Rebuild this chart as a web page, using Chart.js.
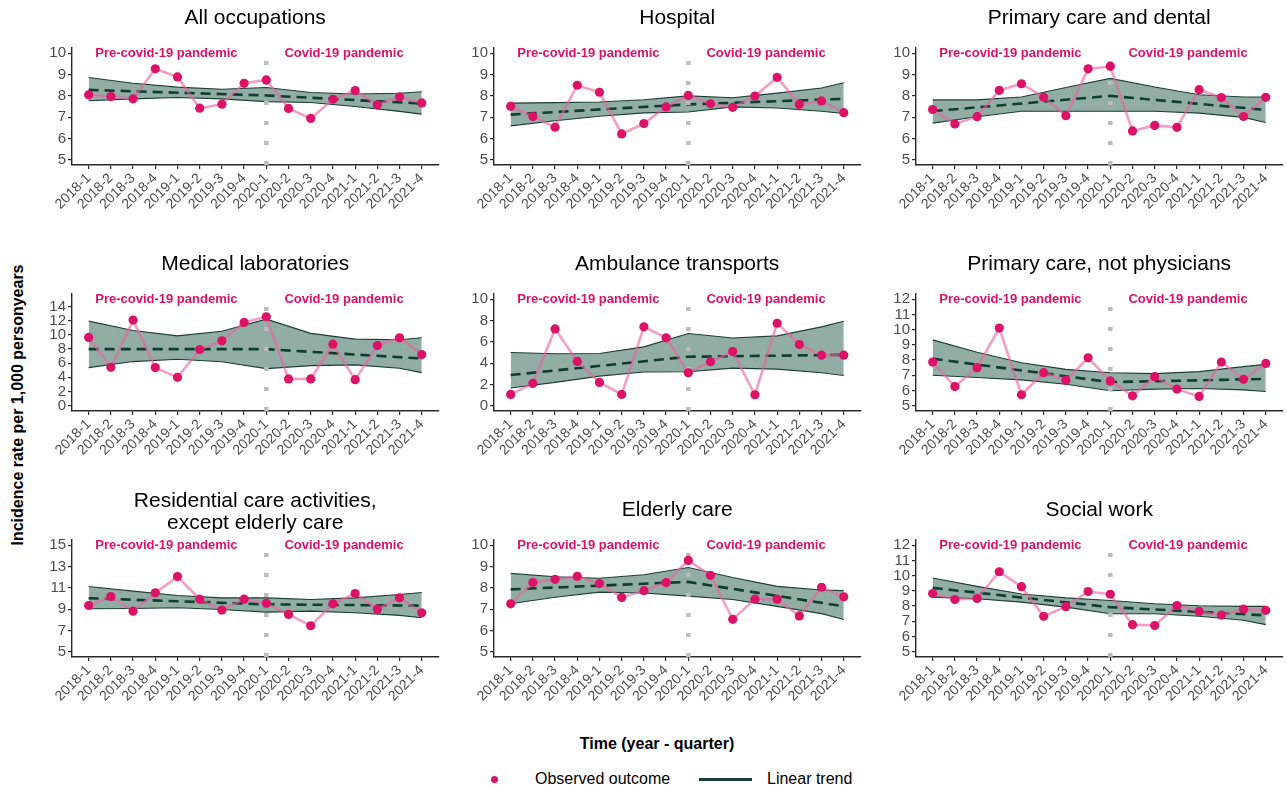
<!DOCTYPE html>
<html>
<head>
<meta charset="utf-8">
<script src="https://cdn.jsdelivr.net/npm/chart.js@4.4.1/dist/chart.umd.min.js"></script>
<style>
html,body{margin:0;padding:0;background:#fff;}
body{width:1287px;height:792px;position:relative;overflow:hidden;font-family:'Liberation Sans',Arial,Helvetica,sans-serif;}
canvas.panel{position:absolute;}
#ytitle{position:absolute;left:18px;top:405px;transform:translate(-50%,-50%) rotate(-90deg);font-weight:bold;font-size:16px;white-space:nowrap;color:#000;}
#xtitle{position:absolute;left:657px;top:744px;transform:translate(-50%,-50%);font-weight:bold;font-size:16px;white-space:nowrap;color:#000;}
.lg{position:absolute;top:779px;transform:translateY(-50%);font-size:16px;white-space:nowrap;color:#000;}
#lgdot{position:absolute;left:490.5px;top:775.5px;width:7px;height:7px;border-radius:50%;background:#dd1166;}
#lgline{position:absolute;left:699px;top:777.5px;width:53px;height:3px;background:#16402f;}
</style>
</head>
<body>
<div id="ytitle">Incidence rate per 1,000 personyears</div>
<div id="xtitle">Time (year - quarter)</div>
<div id="lgdot"></div>
<div class="lg" style="left:535px;">Observed outcome</div>
<div id="lgline"></div>
<div class="lg" style="left:767px;">Linear trend</div>
<script>
// ---------- DATA ----------
const categories = ['2018-1','2018-2','2018-3','2018-4','2019-1','2019-2','2019-3','2019-4',
                    '2020-1','2020-2','2020-3','2020-4','2021-1','2021-2','2021-3','2021-4'];
const pandemicStart = '2020-1';
const periodLabels = ['Pre-covid-19 pandemic', 'Covid-19 pandemic'];
const periodLabelX = [3.5, 11.5];
const ciX = [0, 2, 4, 6, 8, 10, 12, 14, 15];
const trendX = [0, 8, 15];

const panelTitles = ['All occupations', 'Hospital', 'Primary care and dental',
  'Medical laboratories', 'Ambulance transports', 'Primary care, not physicians',
  ['Residential care activities,', 'except elderly care'], 'Elderly care', 'Social work'];

// y tick labels per panel
const yTicksAll = [5,6,7,8,9,10];
const yTicksHosp = [5,6,7,8,9,10];
const yTicksDental = [5,6,7,8,9,10];
const yTicksLab = [0,2,4,6,8,10,12,14];
const yTicksAmb = [0,2,4,6,8,10];
const yTicksPcnp = [5,6,7,8,9,10,11,12];
const yTicksRes = [5,7,9,11,13,15];
const yTicksEld = [5,6,7,8,9,10];
const yTicksSoc = [5,6,7,8,9,10,11,12];

// y limits per panel
const yRangeAll = [5,10];
const yRangeHosp = [5,10];
const yRangeDental = [5,10];
const yRangeLab = [0,15];
const yRangeAmb = [0,10];
const yRangePcnp = [5,12];
const yRangeRes = [5,15];
const yRangeEld = [5,10];
const yRangeSoc = [5,12];

// All occupations
const obsAll = [8.05,7.97,7.86,9.27,8.89,7.42,7.61,8.59,8.75,7.41,6.94,7.84,8.25,7.58,7.95,7.67];
const trendAll = [8.28,8.02,7.64];
const upperAll = [8.86,8.59,8.41,8.31,8.39,8.16,8.09,8.12,8.19];
const lowerAll = [7.77,7.86,7.92,7.86,7.73,7.69,7.50,7.27,7.14];
// Hospital
const obsHosp = [7.51,7.03,6.53,8.50,8.17,6.21,6.70,7.48,8.02,7.63,7.46,7.99,8.87,7.60,7.76,7.21];
const trendHosp = [7.12,7.60,7.86];
const upperHosp = [7.66,7.68,7.71,7.82,8.00,7.91,8.13,8.37,8.62];
const lowerHosp = [6.59,6.83,7.04,7.20,7.24,7.48,7.43,7.28,7.17];
// Primary care and dental
const obsDental = [7.36,6.68,7.02,8.26,8.57,7.93,7.07,9.27,9.39,6.35,6.61,6.52,8.29,7.92,7.03,7.93];
const trendDental = [7.28,8.00,7.34];
const upperDental = [7.81,7.81,7.95,8.39,8.82,8.42,8.05,7.95,7.95];
const lowerDental = [6.72,7.02,7.28,7.28,7.28,7.28,7.19,6.99,6.75];
// Medical laboratories
const obsLab = [9.62,5.42,12.07,5.37,4.00,7.92,9.14,11.74,12.54,3.77,3.77,8.67,3.67,8.48,9.57,7.21];
const trendLab = [7.97,7.97,6.65];
const upperLab = [11.93,10.60,9.85,10.50,12.20,10.20,9.38,9.29,9.57];
const lowerLab = [5.37,6.22,6.55,6.20,5.23,5.65,5.75,5.28,4.66];
// Ambulance transports
const obsAmb = [1.06,2.09,7.22,4.16,2.19,1.06,7.41,6.38,3.09,4.13,5.09,1.03,7.75,5.75,4.75,4.75];
const trendAmb = [2.88,4.60,4.78];
const upperAmb = [5.00,4.88,4.90,5.53,6.78,6.37,6.56,7.41,7.94];
const lowerAmb = [1.66,2.19,2.78,3.16,3.19,3.53,3.44,3.09,2.84];
// Primary care, not physicians
const obsPcnp = [7.87,6.26,7.50,10.11,5.72,7.17,6.67,8.15,6.63,5.65,6.91,6.09,5.61,7.87,6.74,7.78];
const trendPcnp = [8.09,6.55,6.76];
const upperPcnp = [9.33,8.52,7.83,7.39,7.17,7.11,7.24,7.57,7.72];
const lowerPcnp = [7.00,6.85,6.70,6.41,5.98,6.09,6.13,6.04,5.93];
// Residential care activities, except elderly care
const obsRes = [9.34,10.19,8.81,10.53,12.06,9.94,8.91,9.94,9.56,8.50,7.44,9.50,10.47,9.00,10.06,8.66];
const trendRes = [10.03,9.45,9.33];
const upperRes = [11.13,10.69,10.28,10.06,10.06,9.91,10.06,10.38,10.56];
const lowerRes = [9.03,9.06,9.13,8.97,8.72,8.81,8.66,8.41,8.19];
// Elderly care
const obsEld = [7.25,8.25,8.40,8.54,8.20,7.55,7.87,8.25,9.29,8.59,6.52,7.47,7.47,6.68,8.03,7.58];
const trendEld = [7.93,8.28,7.13];
const upperEld = [8.68,8.52,8.45,8.62,8.96,8.49,8.07,7.90,7.87];
const lowerEld = [7.25,7.56,7.80,7.76,7.61,7.45,7.13,6.79,6.51];
// Social work
const obsSoc = [8.83,8.43,8.50,10.26,9.28,7.33,7.96,8.96,8.78,6.78,6.72,8.04,7.65,7.41,7.80,7.72];
const trendSoc = [9.20,7.93,7.39];
const upperSoc = [9.85,9.30,8.80,8.54,8.37,8.15,8.02,7.98,7.98];
const lowerSoc = [8.59,8.48,8.26,7.93,7.50,7.50,7.33,7.07,6.78];

// ---------- BUILD ----------
const panels = [
  {obs:obsAll, trend:trendAll, upper:upperAll, lower:lowerAll, ticks:yTicksAll, range:yRangeAll},
  {obs:obsHosp, trend:trendHosp, upper:upperHosp, lower:lowerHosp, ticks:yTicksHosp, range:yRangeHosp},
  {obs:obsDental, trend:trendDental, upper:upperDental, lower:lowerDental, ticks:yTicksDental, range:yRangeDental},
  {obs:obsLab, trend:trendLab, upper:upperLab, lower:lowerLab, ticks:yTicksLab, range:yRangeLab},
  {obs:obsAmb, trend:trendAmb, upper:upperAmb, lower:lowerAmb, ticks:yTicksAmb, range:yRangeAmb},
  {obs:obsPcnp, trend:trendPcnp, upper:upperPcnp, lower:lowerPcnp, ticks:yTicksPcnp, range:yRangePcnp},
  {obs:obsRes, trend:trendRes, upper:upperRes, lower:lowerRes, ticks:yTicksRes, range:yRangeRes},
  {obs:obsEld, trend:trendEld, upper:upperEld, lower:lowerEld, ticks:yTicksEld, range:yRangeEld},
  {obs:obsSoc, trend:trendSoc, upper:upperSoc, lower:lowerSoc, ticks:yTicksSoc, range:yRangeSoc}
];
panels.forEach((p, i) => { p.title = panelTitles[i]; });

const FONT = "'Liberation Sans', Arial, Helvetica, sans-serif";
const PINK = '#dd1166';
const TICK = '#4d4d4d';
const AXIS = '#2a2a2a';
const CW = 431, CH = 235, YW = 60, XH = 70, TOPPAD = 48;
const AREA_W = 367.4;
const colLeft = [12, 434, 856];
const rowTop = [0, 246, 492];
const startIdx = categories.indexOf(pandemicStart);

Chart.defaults.font.family = FONT;

function makeDecor(p) {
  return {
    id: 'decor',
    afterDraw(chart) {
      const {ctx, chartArea, scales} = chart;
      ctx.save();
      ctx.textAlign = 'center';
      ctx.textBaseline = 'middle';
      ctx.fillStyle = '#000';
      ctx.font = '21px ' + FONT;
      const cx = (chartArea.left + chartArea.right) / 2;
      const lines = Array.isArray(p.title) ? p.title : [p.title];
      if (lines.length === 1) ctx.fillText(lines[0], cx, chartArea.top - 30);
      else lines.forEach((t, k) => ctx.fillText(t, cx, chartArea.top - 39 + k * 22));
      ctx.fillStyle = PINK;
      ctx.font = 'bold 13px ' + FONT;
      const yp = scales.y.getPixelForValue(p.range[1]);
      periodLabels.forEach((t, k) => ctx.fillText(t, scales.x.getPixelForValue(periodLabelX[k]), yp));
      ctx.restore();
    }
  };
}

panels.forEach((p, i) => {
  const cv = document.createElement('canvas');
  cv.className = 'panel';
  cv.width = CW; cv.height = CH;
  cv.style.left = colLeft[i % 3] + 'px';
  cv.style.top = rowTop[Math.floor(i / 3)] + 'px';
  cv.style.width = CW + 'px'; cv.style.height = CH + 'px';
  document.body.appendChild(cv);
  const pad = 0.05 * (p.range[1] - p.range[0]);
  const yMin = p.range[0] - pad, yMax = p.range[1] + pad;
  new Chart(cv, {
    type: 'line',
    data: {
      datasets: [
        { label: 'Observed outcome', data: p.obs.map((v, k) => ({x: k, y: v})),
          borderColor: 'rgba(234,100,158,0.62)', borderWidth: 2.6,
          pointRadius: 4.6, pointBackgroundColor: PINK, pointBorderWidth: 0, order: 0 },
        { label: 'Pandemic start', data: [{x: startIdx, y: yMin}, {x: startIdx, y: yMax}],
          borderColor: '#bdbdbd', borderWidth: 4.5, borderDash: [4, 16], borderCapStyle: 'butt',
          pointRadius: 0, order: 1 },
        { label: 'Linear trend', data: trendX.map((x, k) => ({x: x, y: p.trend[k]})),
          borderColor: '#0f3d2e', borderWidth: 2.6, borderDash: [10, 6], pointRadius: 0, order: 2 },
        { label: 'Upper', data: ciX.map((x, k) => ({x: x, y: p.upper[k]})),
          borderColor: '#1a3f33', borderWidth: 1.1, pointRadius: 0, fill: '+1',
          backgroundColor: '#91ada4', order: 3 },
        { label: 'Lower', data: ciX.map((x, k) => ({x: x, y: p.lower[k]})),
          borderColor: '#1a3f33', borderWidth: 1.1, pointRadius: 0, fill: false, order: 4 }
      ]
    },
    options: {
      responsive: false,
      animation: false,
      events: [],
      layout: { padding: { left: 0, right: CW - YW - AREA_W, top: TOPPAD, bottom: 0 } },
      elements: { line: { tension: 0 } },
      plugins: {
        legend: { display: false },
        tooltip: { enabled: false },
        title: { display: false },
        filler: { drawTime: 'beforeDatasetsDraw' }
      },
      scales: {
        x: {
          type: 'linear',
          min: -0.75, max: categories.length - 0.25,
          afterBuildTicks: s => { s.ticks = categories.map((_, k) => ({value: k})); },
          afterFit: s => { s.height = XH; s.paddingLeft = 0; s.paddingRight = 0; },
          ticks: { autoSkip: false, minRotation: 45, maxRotation: 45, color: TICK,
                   font: { size: 14, family: FONT }, padding: 1,
                   callback: v => categories[v] },
          grid: { display: true, drawOnChartArea: false, drawTicks: true, tickLength: 4, color: AXIS, lineWidth: 1.2 },
          border: { display: true, color: AXIS, width: 1.4 }
        },
        y: {
          type: 'linear',
          min: yMin, max: yMax,
          afterBuildTicks: s => { s.ticks = p.ticks.map(v => ({value: v})); },
          afterFit: s => { s.width = YW; s.paddingTop = 0; s.paddingBottom = 0; },
          ticks: { autoSkip: false, color: TICK, font: { size: 15, family: FONT }, padding: 2, callback: v => String(v) },
          grid: { display: true, drawOnChartArea: false, drawTicks: true, tickLength: 4, color: AXIS, lineWidth: 1.2 },
          border: { display: true, color: AXIS, width: 1.4 }
        }
      }
    },
    plugins: [makeDecor(p)]
  });
});
</script>
</body>
</html>
